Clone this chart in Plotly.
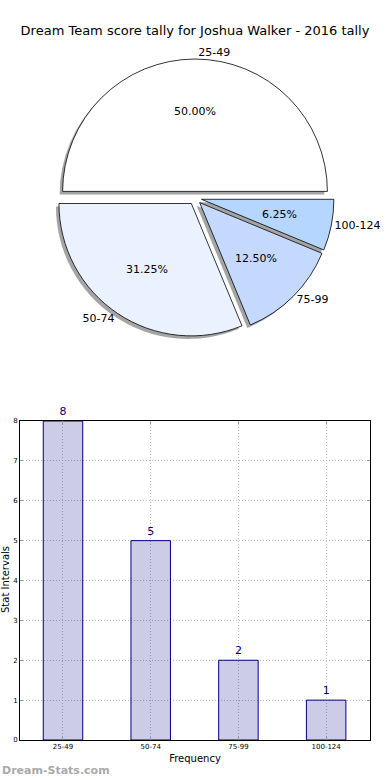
import math
import plotly.graph_objects as go

categories = ["25-49", "50-74", "75-99", "100-124"]
counts = [8, 5, 2, 1]
pie_colors = ["#ffffff", "#ebf2ff", "#c5d9ff", "#b4d6ff"]
y_ticks = [0, 1, 2, 3, 4, 5, 6, 7, 8]

FONT = "DejaVu Sans"
W, H = 390, 780

def py(px):  # pixel from top -> paper
    return 1 - px / H

def pxx(px):
    return px / W

# pie geometry
cx, cy, R = 195, 198, 139
PULL = 0.05
dom_x = [pxx(cx - R), pxx(cx + R)]
dom_y = [py(cy + R), py(cy - R)]
sh = 3
dom_x_sh = [pxx(cx - R - sh), pxx(cx + R - sh)]
dom_y_sh = [py(cy + R + sh), py(cy - R + sh)]

pull = [PULL] * len(counts)
ROT = -90

fig = go.Figure()

# shadow
fig.add_trace(go.Pie(
    labels=categories, values=counts, sort=False, direction="counterclockwise",
    rotation=ROT, pull=pull, domain=dict(x=dom_x_sh, y=dom_y_sh), automargin=False,
    marker=dict(colors=["rgba(90,90,90,0.55)"] * 4, line=dict(width=0)),
    textinfo="none", hoverinfo="skip", showlegend=False,
))
# main pie
fig.add_trace(go.Pie(
    labels=categories, values=counts, sort=False, direction="counterclockwise",
    rotation=ROT, pull=pull, domain=dict(x=dom_x, y=dom_y), automargin=False,
    marker=dict(colors=pie_colors, line=dict(color="#000000", width=0.8)),
    textinfo="label", textposition="outside",
    outsidetextfont=dict(family=FONT, size=11, color="#000000"),
    showlegend=False,
))

# percentage labels at 0.6 of the radius along each slice's mid-angle
r_px = R / (1 + PULL)
total = sum(counts)
annotations = []
cum = 0
for v in counts:
    theta = math.radians(360 * (cum + v / 2) / total)
    d = r_px * (PULL + 0.6)
    annotations.append(dict(
        text=f"{100 * v / total:.2f}%", x=pxx(cx + d * math.cos(theta)),
        y=py(cy - d * math.sin(theta)), xref="paper", yref="paper",
        xanchor="center", yanchor="middle", showarrow=False,
        font=dict(family=FONT, size=11, color="#000000")))
    cum += v

# bar chart
fig.add_trace(go.Bar(
    x=categories, y=counts, width=0.45,
    marker=dict(color="rgba(0,0,128,0.2)", line=dict(color="#000080", width=1)),
    text=[str(c) for c in counts], textposition="outside",
    textfont=dict(family=FONT, size=11, color="#000080"),
    cliponaxis=False, showlegend=False,
))

annotations += [
    dict(text="<b>Dream-Stats.com</b>", x=0, y=py(770), xref="paper",
         yref="paper", xanchor="left", yanchor="middle", showarrow=False,
         font=dict(family=FONT, size=11, color="#aaaaaa")),
    dict(text="Stat Intervals", x=pxx(5), y=py(580), xref="paper", yref="paper",
         xanchor="center", yanchor="middle", textangle=-90, showarrow=False,
         font=dict(family=FONT, size=10, color="#000000")),
]

grid = dict(showgrid=True, gridcolor="#bbbbbb", griddash="1px,2px", gridwidth=1)
fig.update_layout(
    width=W, height=H, autosize=False, margin=dict(l=0, r=0, t=0, b=0, autoexpand=False),
    paper_bgcolor="white", plot_bgcolor="white",
    font=dict(family=FONT, color="#000000"),
    title=dict(text="Dream Team score tally for Joshua Walker - 2016 tally",
               x=0.5, xanchor="center", y=py(30), yanchor="middle",
               font=dict(family=FONT, size=13, color="#000000")),
    xaxis=dict(domain=[pxx(20), pxx(370)], range=[-0.49, 3.5], **grid,
               showline=True, linecolor="#000000", linewidth=1, mirror="ticks",
               ticks="inside", ticklen=3, tickcolor="#999999",
               tickfont=dict(family=FONT, size=7, color="#000000"),
               title=dict(text="Frequency", standoff=4,
                          font=dict(family=FONT, size=10, color="#000000")),
               automargin=False, fixedrange=True),
    yaxis=dict(domain=[py(740), py(421)], range=[0, 8], tickvals=y_ticks, **grid,
               showline=True, linecolor="#000000", linewidth=1, mirror="ticks",
               ticks="inside", ticklen=3, tickcolor="#999999",
               tickfont=dict(family=FONT, size=7, color="#000000"),
               automargin=False, zeroline=False, fixedrange=True),
    annotations=annotations,
)

fig.write_html(
    "out.html",
    config={"responsive": False, "displayModeBar": False},
    post_script="document.body.style.margin='0px';document.body.style.overflow='hidden';"
                "document.documentElement.style.overflow='hidden';",
)
